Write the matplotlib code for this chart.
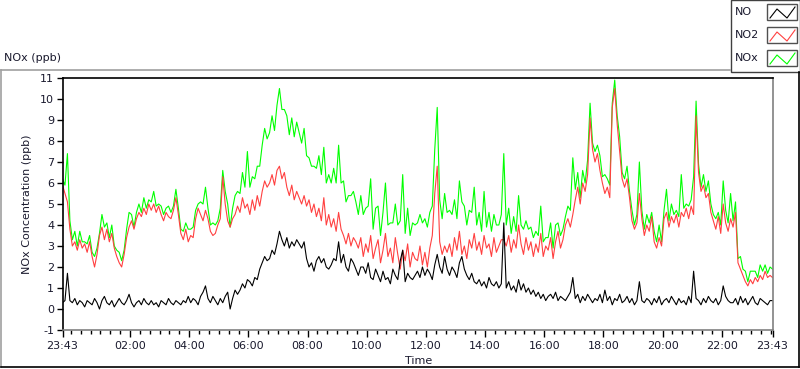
import matplotlib
matplotlib.use("Agg")
import matplotlib.pyplot as plt
import matplotlib.dates as mdates
from matplotlib.lines import Line2D
from matplotlib.patches import Rectangle
import pandas as pd

# ---- data (5-minute samples from 23:43 to 23:43 next day) ----
no = [
    0.3,0.4,1.7,0.4,0.3,0.5,0.2,0.4,0.3,0.1,0.4,0.3,
    0.2,0.5,0.3,0.0,0.4,0.6,0.3,0.2,0.4,0.1,0.3,0.5,
    0.3,0.2,0.4,0.7,0.3,0.1,0.3,0.4,0.2,0.5,0.3,0.2,
    0.4,0.2,0.3,0.1,0.4,0.3,0.2,0.5,0.3,0.2,0.4,0.3,
    0.2,0.4,0.3,0.6,0.3,0.5,0.4,0.2,0.6,0.8,1.1,0.5,
    0.3,0.6,0.4,0.2,0.5,0.3,0.6,0.8,0.0,0.5,0.9,0.7,
    0.9,1.2,1.0,1.4,1.3,1.1,1.5,1.4,1.9,2.2,2.5,2.3,
    2.4,2.8,2.6,3.1,3.7,3.3,3.0,3.4,2.9,3.2,3.0,3.3,
    3.1,2.9,3.2,2.4,2.0,2.2,1.8,2.3,2.5,2.2,2.4,2.0,
    1.9,2.1,2.4,2.3,3.2,2.2,2.6,2.0,1.8,2.4,2.2,1.9,
    1.6,2.0,2.0,1.7,2.2,1.5,1.4,1.9,1.6,1.3,1.8,1.4,
    1.5,1.2,1.9,1.6,1.4,2.3,2.8,1.3,1.7,1.5,1.4,1.6,
    1.8,1.5,2.0,1.6,1.9,1.7,1.4,2.1,2.6,2.0,1.7,2.5,
    1.9,1.6,2.0,1.8,1.5,2.2,2.5,1.9,1.6,1.4,1.7,1.3,
    1.2,1.4,1.1,1.3,1.0,1.5,1.2,1.1,1.3,1.0,1.2,4.1,
    1.0,1.3,0.9,1.1,0.8,1.4,0.9,1.2,0.8,1.0,0.7,0.9,
    0.6,0.8,0.5,0.7,0.4,0.6,0.7,0.5,0.8,0.4,0.6,0.5,
    0.4,0.6,0.8,1.5,0.5,0.7,0.3,0.6,0.4,0.7,0.5,0.3,
    0.5,0.4,0.7,0.3,0.9,0.4,0.6,0.2,0.5,0.4,0.7,0.3,
    0.4,0.6,0.3,0.5,0.2,0.4,1.3,0.4,0.3,0.5,0.4,0.2,
    0.5,0.3,0.6,0.2,0.4,0.5,0.3,0.6,0.4,0.2,0.5,0.3,
    0.4,0.2,0.6,0.3,1.8,0.5,0.4,0.2,0.5,0.3,0.6,0.4,
    0.3,0.5,0.2,0.4,1.1,0.6,0.4,0.3,0.3,0.5,0.2,0.6,
    0.3,0.5,0.2,0.4,0.6,0.3,0.2,0.5,0.4,0.3,0.2,0.4,
    0.4,
]
no2 = [
    5.9,5.5,5.1,3.8,3.0,3.2,2.8,3.3,2.9,3.1,2.7,3.2,
    2.5,2.0,2.6,3.5,3.9,3.3,3.8,3.2,3.6,2.9,2.5,2.2,
    2.0,2.6,3.4,3.9,4.2,3.8,4.3,4.6,4.4,4.8,4.5,5.0,
    4.7,5.0,4.6,4.9,4.5,4.2,4.6,4.4,4.3,4.7,5.3,4.5,
    3.6,3.3,3.8,3.2,3.5,3.4,4.3,4.8,4.5,4.2,4.7,4.3,
    3.7,3.5,3.6,4.0,4.3,6.3,5.0,4.2,3.9,4.3,4.5,4.9,
    4.6,5.3,4.8,5.0,4.5,5.2,4.7,5.4,4.9,5.6,6.1,5.8,
    6.0,6.4,5.9,6.6,6.8,6.2,6.5,5.8,5.4,5.9,5.2,5.6,
    5.3,5.0,5.4,4.9,5.2,4.6,5.0,4.4,4.8,4.2,5.3,4.0,
    4.5,3.9,4.3,3.7,4.6,3.8,3.5,3.1,3.6,3.0,3.4,3.2,
    2.9,3.4,2.5,3.1,2.7,3.5,2.4,2.9,3.3,2.2,2.8,3.6,
    2.5,2.9,2.2,3.4,2.6,1.9,2.8,2.3,3.1,2.0,2.7,2.4,
    2.3,3.0,2.1,2.7,2.0,2.9,3.5,5.5,6.8,3.2,2.6,3.0,
    2.7,3.1,2.5,3.4,2.8,3.7,2.6,3.0,2.4,3.3,2.9,3.6,
    2.8,3.2,2.6,3.5,2.9,3.1,2.5,3.4,2.7,3.0,3.3,3.3,
    3.0,3.5,2.7,3.3,2.9,4.0,3.1,2.6,3.4,2.8,3.2,2.5,
    3.1,2.7,3.6,2.5,3.0,2.8,3.4,2.4,3.2,3.7,2.9,3.3,
    4.0,4.3,3.9,4.5,5.2,5.8,5.0,6.0,5.6,6.4,9.1,7.6,
    7.0,7.4,6.6,6.0,5.5,5.8,5.3,9.6,10.5,8.8,7.5,6.2,
    5.8,6.2,5.3,4.2,3.8,4.1,5.5,4.3,3.5,4.0,3.7,4.4,
    3.2,2.9,3.4,3.0,4.3,4.6,3.9,4.4,4.1,4.5,3.9,4.6,
    4.4,4.8,4.3,4.9,4.5,9.2,6.5,5.6,5.9,5.3,5.5,4.6,
    4.2,3.8,4.4,3.6,5.0,4.1,3.7,4.3,3.9,4.6,2.2,1.9,
    1.6,1.3,1.1,1.4,1.2,1.5,1.3,1.6,1.4,1.8,1.5,1.6,
    1.5,
]
nox = [
    6.2,5.9,7.4,4.2,3.3,3.7,3.0,3.7,3.2,3.2,3.1,3.5,
    2.7,2.5,2.9,3.6,4.5,3.9,4.1,3.4,4.0,3.0,2.8,2.7,
    2.3,2.8,3.8,4.6,4.5,3.9,4.6,5.0,4.6,5.3,4.8,5.2,
    5.1,5.6,4.9,5.0,4.9,4.5,4.8,4.9,4.6,4.9,5.7,4.8,
    3.8,3.7,4.1,3.8,3.8,3.9,4.7,5.0,5.1,5.0,5.8,4.8,
    4.0,4.1,4.0,4.2,4.8,6.6,5.6,5.0,3.9,4.8,5.4,5.6,
    5.5,6.5,5.8,7.5,5.8,6.3,6.2,6.8,6.8,7.8,8.6,8.1,
    8.4,9.2,8.5,9.7,10.5,9.5,9.5,9.2,8.3,9.1,8.2,8.9,
    8.4,7.9,8.6,7.3,7.2,6.8,6.8,6.7,7.3,6.4,7.7,6.0,
    6.4,6.0,6.7,6.0,7.8,6.0,6.1,5.1,5.4,5.4,5.6,5.1,
    4.5,5.4,4.5,4.8,4.9,6.2,3.8,4.8,4.9,3.5,4.6,6.0,
    4.0,4.1,4.1,5.0,4.0,4.2,6.4,3.6,4.8,3.5,4.1,4.0,
    4.1,4.5,4.1,4.3,3.9,4.6,4.9,7.6,9.6,5.2,4.3,5.5,
    4.6,4.7,4.5,5.2,4.3,6.1,5.1,4.9,4.0,4.7,4.6,5.8,
    4.0,4.6,3.7,5.6,3.9,4.6,3.7,4.5,4.0,4.0,4.5,7.4,
    4.0,4.8,3.6,4.4,3.7,5.4,4.0,3.8,4.2,3.8,3.9,3.4,
    3.7,3.5,4.9,3.2,3.4,3.4,4.1,2.9,4.0,4.1,3.5,3.8,
    4.4,4.9,4.7,7.2,5.7,6.5,5.3,6.6,6.0,7.1,9.8,7.9,
    7.5,7.8,7.3,6.3,6.4,6.2,5.9,9.8,10.9,9.2,8.2,6.5,
    6.2,6.8,5.6,4.7,4.0,4.5,7.0,4.7,3.8,4.5,4.1,4.6,
    3.7,3.2,4.0,3.2,4.7,5.7,4.2,5.0,4.5,4.7,4.4,6.4,
    4.8,5.0,4.9,5.2,6.3,9.9,6.9,5.8,6.4,5.6,6.1,5.0,
    4.5,4.3,4.6,4.0,6.1,4.7,4.1,5.5,4.2,5.1,2.4,2.5,
    1.9,1.8,1.3,1.8,1.8,1.8,1.5,2.1,1.8,2.1,1.7,2.0,
    1.9,
]
series_names = ["NO", "NO2", "NOx"]
start_time = "2000-01-01 23:43"
y_ticks = list(range(-1, 12))

times = pd.date_range(start_time, periods=len(no), freq="5min")

# ---- figure ----
plt.rcParams['font.family'] = ['DejaVu Sans']
W, H = 800, 369
fig = plt.figure(figsize=(W / 100, H / 100), dpi=100)
fig.patch.set_facecolor("white")

def fx(px):
    return px / W

def fy(py):
    return 1 - py / H

ax = fig.add_axes([fx(62.5), fy(330), fx(772.5) - fx(62.5), fy(78) - fy(330)])
ax.set_facecolor("white")

c_no, c_no2, c_nox = "#000000", "#ff4040", "#00ff00"
ax.plot(times, nox, color=c_nox, lw=0.8)
ax.plot(times, no2, color=c_no2, lw=0.8)
ax.plot(times, no, color=c_no, lw=0.8)

ax.set_xlim(times[0], times[-1])
ax.set_ylim(-1, 11)
ax.set_yticks(y_ticks)
ax.set_yticklabels([str(v) for v in y_ticks])

one_h = pd.Timedelta("1h")
hours = [t for t in pd.date_range(times[0].ceil("2h"), times[-1], freq="2h")
         if (t - times[0]) > one_h and (times[-1] - t) > one_h]
xt = [times[0]] + hours + [times[-1]]
ax.set_xticks(xt)
ax.set_xticklabels([t.strftime("%H:%M") for t in xt])
ax.xaxis.set_minor_locator(mdates.MinuteLocator(byminute=[0, 20, 40]))

tick_col = "#1a1a2e"
ax.tick_params(axis="both", which="major", direction="out", labelsize=8,
               colors="black", labelcolor=tick_col, width=1)
ax.tick_params(axis="x", which="major", length=5, pad=3)
ax.tick_params(axis="x", which="minor", length=3, width=1)
ax.tick_params(axis="y", which="major", length=4, pad=2)

ax.spines["left"].set_color("black")
ax.spines["top"].set_color("black")
ax.spines["right"].set_color("#808080")
ax.spines["bottom"].set_color("#808080")
for s in ax.spines.values():
    s.set_linewidth(1.2)

ax.set_ylabel("NOx Concentration (ppb)", fontsize=8, color=tick_col, labelpad=6)
fig.text(fx(405), fy(361), "Time", fontsize=8, color=tick_col, ha="left", va="center")
fig.text(fx(4), fy(58), "NOx (ppb)", fontsize=8, color=tick_col, ha="left", va="center")

# outer frame
fig.add_artist(Line2D([fx(0.5), fx(730)], [fy(70), fy(70)], color="#a0a0a0", lw=1.2))
fig.add_artist(Line2D([fx(0.8), fx(0.8)], [fy(70), fy(366.5)], color="#a0a0a0", lw=1.2))
fig.add_artist(Line2D([fx(0.5), fx(798.5)], [fy(366.5), fy(366.5)], color="black", lw=1.2))
fig.add_artist(Line2D([fx(798.5), fx(798.5)], [fy(72), fy(366.5)], color="black", lw=1.2))

# legend
fig.add_artist(Rectangle((fx(730.5), fy(71.5)), fx(799.5) - fx(730.5), fy(0) - fy(71.5),
                         facecolor="white", edgecolor="#404040", lw=1.0))
for i, (name, col) in enumerate(zip(series_names, [c_no, c_no2, c_nox])):
    yc = 12 + 23 * i
    fig.text(fx(735), fy(yc), name, fontsize=8, color=tick_col, ha="left", va="center")
    fig.add_artist(Rectangle((fx(767), fy(yc + 8)), fx(797) - fx(767), fy(yc - 8) - fy(yc + 8),
                             facecolor="white", edgecolor="#505050", lw=1.0))
    zx = [770, 777, 787, 795]
    zy = [yc + 6, yc - 3, yc + 6, yc - 5]
    fig.add_artist(Line2D([fx(v) for v in zx], [fy(v) for v in zy], color=col, lw=0.8))

fig.savefig("out.png", dpi=100)
